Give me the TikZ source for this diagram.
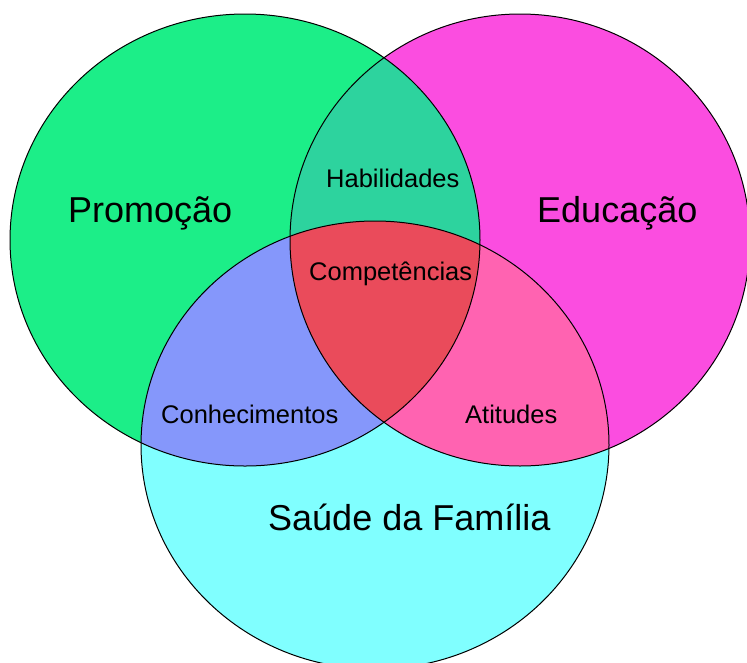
\documentclass[tikz,border=0pt]{standalone}
\usepackage{fontspec}
\setmainfont{Liberation Sans}
\definecolor{cG}{HTML}{1CEE88}
\definecolor{cM}{HTML}{FB4DE0}
\definecolor{cC}{HTML}{80FFFF}
\definecolor{cGM}{HTML}{2DD39E}
\definecolor{cGC}{HTML}{8597FB}
\definecolor{cMC}{HTML}{FF63B1}
\definecolor{cGMC}{HTML}{EA4B5B}
\def\pG{(245,240) ellipse [x radius=235,y radius=226]}
\def\pM{(520,240) ellipse [x radius=230,y radius=226]}
\def\pC{(375,445) ellipse [x radius=234,y radius=224]}
\tikzset{
  outline/.style={draw=black,line width=1pt},
  big/.style={font=\fontsize{36}{40}\selectfont,anchor=base west,inner sep=0pt},
  small/.style={font=\fontsize{25.5}{30}\selectfont,anchor=base west,inner sep=0pt}
}
\begin{document}
\begin{tikzpicture}[x=1pt,y=-1pt]
\useasboundingbox (0,0) rectangle (747,662);
\begin{scope}
\clip (0,0) rectangle (747,662);
\fill[cG] \pG;
\fill[cM] \pM;
\fill[cC] \pC;
\begin{scope}\clip \pG; \fill[cGM] \pM; \end{scope}
\begin{scope}\clip \pG; \fill[cGC] \pC; \end{scope}
\begin{scope}\clip \pM; \fill[cMC] \pC; \end{scope}
\begin{scope}\clip \pG; \clip \pM; \fill[cGMC] \pC; \end{scope}
\draw[outline] \pG;
\draw[outline] \pM;
\draw[outline] \pC;
\end{scope}
\node[big] (promo) at (68,222) {Promoção};
\node[big] (edu) at (537,222) {Educação};
\node[big] (saude) at (268,530) {Saúde da Família};
\node[small] (hab) at (326,187) {Habilidades};
\node[small] (comp) at (309,280) {Competências};
\node[small] (conh) at (161,423) {Conhecimentos};
\node[small] (atit) at (465,423) {Atitudes};
\end{tikzpicture}
\end{document}
